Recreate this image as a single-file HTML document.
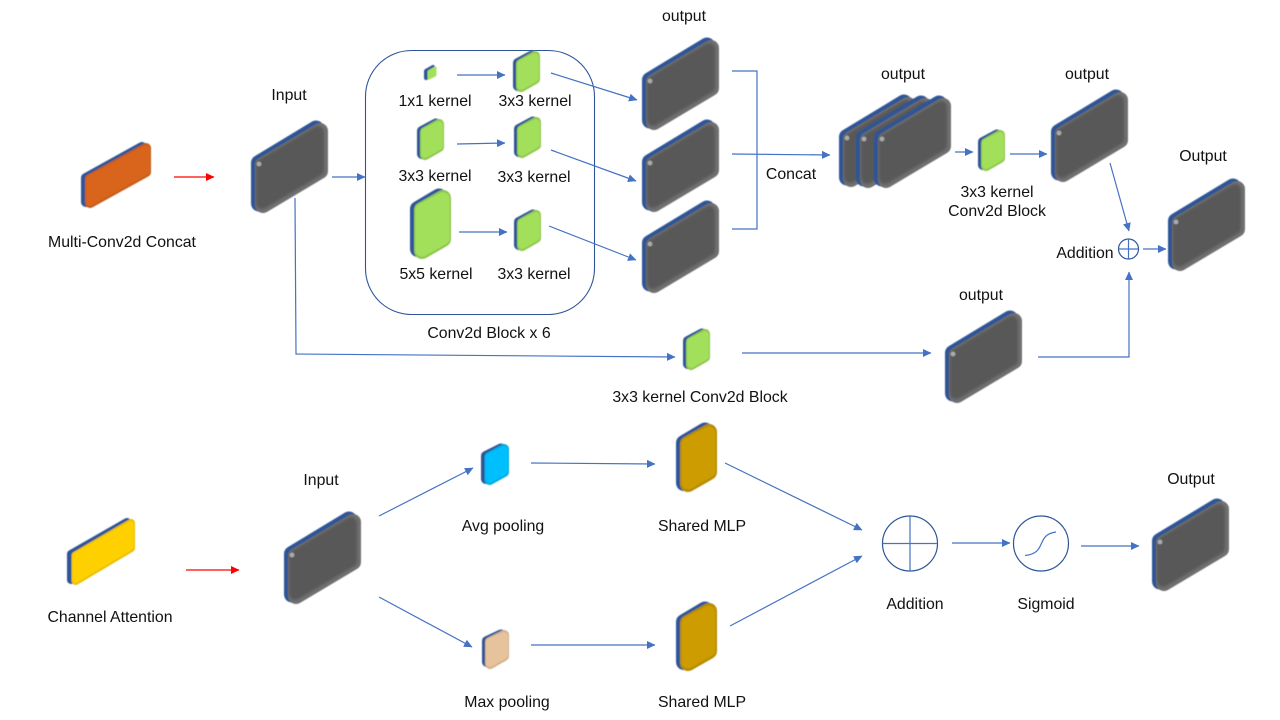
<!DOCTYPE html>
<html><head><meta charset="utf-8"><style>
html,body{margin:0;padding:0;background:#fff;width:1280px;height:720px;overflow:hidden}
svg{display:block}
text{font-family:"Liberation Sans",Arial,sans-serif;font-size:15.85px;fill:#111;text-anchor:middle}
.l{fill:none;stroke:#4472c4;stroke-width:1.2}
.a{marker-end:url(#ab)}
.r{fill:none;stroke:#f00;stroke-width:1.2;marker-end:url(#ar)}
.c{fill:none;stroke:#2f5597;stroke-width:1.2}
polygon{stroke-linejoin:round}
.b{stroke:#2f5597;fill:#2f5597}
</style></head><body>
<svg width="1280" height="720" viewBox="0 0 1280 720" xmlns="http://www.w3.org/2000/svg">
<defs>
<marker id="ab" markerUnits="userSpaceOnUse" markerWidth="9" markerHeight="9" refX="8" refY="4.5" orient="auto"><path d="M0 0.5L8.5 4.5L0 8.5Z" fill="#4472c4"/></marker>
<marker id="ar" markerUnits="userSpaceOnUse" markerWidth="9" markerHeight="9" refX="8" refY="4.5" orient="auto"><path d="M0 0.5L8.5 4.5L0 8.5Z" fill="#f00"/></marker>
<filter id="s" x="-100%" y="-100%" width="300%" height="300%"><feGaussianBlur stdDeviation="0.5"/></filter>
<filter id="m" x="-100%" y="-100%" width="300%" height="300%"><feGaussianBlur stdDeviation="1.2"/></filter>
<symbol id="gray" width="78" height="93" overflow="visible">
<g filter="url(#s)"><polygon class="b" stroke-width="16" points="8,42 65,7.500 65,48 8,82.500"/>
<polygon points="12,44 69,10 69,50 12,84" fill="#707070" stroke="#707070" stroke-width="16"/></g>
<polygon points="11,44 67,11 67,49 11,82" fill="#595959" stroke="#595959" stroke-width="12" filter="url(#m)"/>
<circle cx="8" cy="43" r="2.500" fill="#aaa" filter="url(#s)"/>
</symbol>
<symbol id="green" width="28" height="43" overflow="visible">
<g filter="url(#s)"><polygon class="b" stroke-width="10" points="5,13 19,5.500 19,28 5,36"/>
<polygon points="8,14 22,6 22,29 8,37" fill="#8fc44e" stroke="#8fc44e" stroke-width="10"/>
<polygon points="8,14 22,7 22,28 8,36" fill="#a2e05c" stroke="#a2e05c" stroke-width="8"/></g>
</symbol>
<symbol id="gold" width="42" height="69" overflow="visible">
<g filter="url(#s)"><polygon class="b" stroke-width="16" points="8,19 29,6.500 29,47 8,59"/>
<polygon points="12,20 33,8 33,48 12,60" fill="#b58b05" stroke="#b58b05" stroke-width="16"/>
<polygon points="12,20 33,9 33,47 12,59" fill="#cc9c00" stroke="#cc9c00" stroke-width="13"/></g>
</symbol>
</defs>

<!-- rounded container -->
<rect x="365.500" y="50.500" width="229" height="264" rx="46" fill="none" stroke="#2f5597" stroke-width="1.1"/>

<!-- gray blocks -->
<use href="#gray" x="251" y="121"/>
<use href="#gray" x="642" y="38"/>
<use href="#gray" x="642" y="120"/>
<use href="#gray" x="642" y="201"/>
<use href="#gray" x="839" y="95"/>
<use href="#gray" x="856" y="96"/>
<use href="#gray" x="874" y="96"/>
<use href="#gray" x="1051" y="90"/>
<use href="#gray" x="1168" y="179"/>
<use href="#gray" x="945" y="311"/>
<use href="#gray" x="284" y="512"/>
<use href="#gray" x="1152" y="499"/>

<g filter="url(#s)">
<!-- orange -->
<g transform="translate(81,141)">
<polygon class="b" stroke-width="10" points="5,37 61,6 61,30 5,61"/>
<polygon points="9,38 65,7 65,31 9,62" fill="#c25c1c" stroke="#c25c1c" stroke-width="10"/>
<polygon points="9,38 65,8 65,30 9,61" fill="#d9651c" stroke="#d9651c" stroke-width="8"/>
</g>
<!-- yellow -->
<g transform="translate(67,518)">
<polygon class="b" stroke-width="8" points="4,36 60,4 60,29 4,62"/>
<polygon points="8.500,37.500 64,5 64,30 8.500,63" fill="#e8bd05" stroke="#e8bd05" stroke-width="8"/>
<polygon points="8.500,37.500 64,6 64,29 8.500,62" fill="#ffd000" stroke="#ffd000" stroke-width="6"/>
</g>
<!-- tiny 1x1 -->
<g transform="translate(424,65)">
<polygon class="b" stroke-width="4" points="2,6 9,2 9,10 2,13"/>
<polygon points="5,6.500 11,3 11,10 5,13" fill="#a2e05c" stroke="#a2e05c" stroke-width="3"/>
</g>
<!-- big green -->
<g transform="translate(410,190)">
<polygon class="b" stroke-width="16" points="8,19 29,6.500 29,47 8,59"/>
<polygon points="12,20 33,8 33,49 12,61" fill="#8fc44e" stroke="#8fc44e" stroke-width="16"/>
<polygon points="12,20 33,9 33,48 12,60" fill="#a2e05c" stroke="#a2e05c" stroke-width="13.500"/>
</g>
<!-- avg pool blue -->
<g transform="translate(481,443)">
<polygon class="b" stroke-width="10" points="5,13 20,5.500 20,28 5,36"/>
<polygon points="8.500,14 23,6 23,29 8.500,37" fill="#00a8e0" stroke="#00a8e0" stroke-width="10"/>
<polygon points="8.500,14 23,7 23,28 8.500,36" fill="#00bfff" stroke="#00bfff" stroke-width="8"/>
</g>
<!-- max pool tan -->
<g transform="translate(482,629)">
<polygon class="b" stroke-width="10" points="5,12 19,5.500 19,26 5,33"/>
<polygon points="8,13 22,6 22,27 8,35" fill="#d2b08a" stroke="#d2b08a" stroke-width="10"/>
<polygon points="8,13 22,7 22,26 8,34" fill="#e6c39c" stroke="#e6c39c" stroke-width="8"/>
</g>
</g>

<use href="#green" x="513" y="50"/>
<use href="#green" x="417" y="118"/>
<use href="#green" x="514" y="116"/>
<use href="#green" x="514" y="209"/>
<use href="#green" x="978" y="129"/>
<use href="#green" x="683" y="328"/>
<use href="#gold" x="676" y="424"/>
<use href="#gold" x="676" y="603"/>

<!-- connectors -->
<line class="r" x1="174" y1="177" x2="214" y2="177"/>
<line class="r" x1="186" y1="570" x2="239" y2="570"/>
<line class="l a" x1="332" y1="177" x2="365" y2="177"/>
<polyline class="l a" points="295,198 296,354 675,357"/>
<line class="l a" x1="457" y1="75" x2="505" y2="75"/>
<line class="l a" x1="551" y1="73" x2="637" y2="100"/>
<line class="l a" x1="457" y1="144" x2="505" y2="143"/>
<line class="l a" x1="551" y1="150" x2="636" y2="181"/>
<line class="l a" x1="459" y1="232" x2="507" y2="232"/>
<line class="l a" x1="549" y1="226" x2="636" y2="260"/>
<polyline class="l" points="732,71 757,71 757,229 732,229"/>
<line class="l a" x1="732" y1="154" x2="830" y2="155"/>
<line class="l a" x1="955" y1="152" x2="973" y2="152"/>
<line class="l a" x1="1010" y1="154" x2="1047" y2="154"/>
<line class="l a" x1="1110" y1="163" x2="1129" y2="231"/>
<line class="l a" x1="1143" y1="249" x2="1166" y2="249"/>
<polyline class="l a" points="1038,357 1129,357 1129,272"/>
<line class="l a" x1="742" y1="353" x2="931" y2="353"/>
<line class="l a" x1="379" y1="516" x2="473" y2="468"/>
<line class="l a" x1="379" y1="597" x2="472" y2="647"/>
<line class="l a" x1="531" y1="463" x2="655" y2="464"/>
<line class="l a" x1="531" y1="645" x2="655" y2="645"/>
<line class="l a" x1="725" y1="463" x2="862" y2="530"/>
<line class="l a" x1="730" y1="626" x2="862" y2="556"/>
<line class="l a" x1="952" y1="543" x2="1010" y2="543"/>
<line class="l a" x1="1081" y1="546" x2="1139" y2="546"/>

<!-- operators -->
<circle class="c" cx="1128.500" cy="249" r="10"/>
<path class="l" d="M1118.500 249H1138.500M1128.500 239V259"/>
<circle class="c" cx="910" cy="543.500" r="27.500"/>
<path class="l" d="M882.500 543.500H937.500M910 516V571"/>
<circle class="c" cx="1041" cy="543.500" r="27.500"/>
<path class="l" d="M1025 555.500C1048 553 1035 535 1056 532"/>

<!-- labels -->
<text x="122" y="247">Multi-Conv2d Concat</text>
<text x="289" y="100">Input</text>
<text x="435" y="106">1x1 kernel</text>
<text x="535" y="106">3x3 kernel</text>
<text x="435" y="181">3x3 kernel</text>
<text x="534" y="182">3x3 kernel</text>
<text x="436" y="279">5x5 kernel</text>
<text x="534" y="279">3x3 kernel</text>
<text x="489" y="338">Conv2d Block x 6</text>
<text x="684" y="21">output</text>
<text x="903" y="79">output</text>
<text x="1087" y="79">output</text>
<text x="1203" y="161">Output</text>
<text x="791" y="179">Concat</text>
<text x="997" y="197">3x3 kernel</text>
<text x="997" y="216">Conv2d Block</text>
<text x="1085" y="258">Addition</text>
<text x="981" y="300">output</text>
<text x="700" y="402">3x3 kernel Conv2d Block</text>
<text x="321" y="485">Input</text>
<text x="503" y="531">Avg pooling</text>
<text x="702" y="531">Shared MLP</text>
<text x="1191" y="484">Output</text>
<text x="110" y="622">Channel Attention</text>
<text x="915" y="609">Addition</text>
<text x="1046" y="609">Sigmoid</text>
<text x="507" y="707">Max pooling</text>
<text x="702" y="707">Shared MLP</text>
</svg>
</body></html>
